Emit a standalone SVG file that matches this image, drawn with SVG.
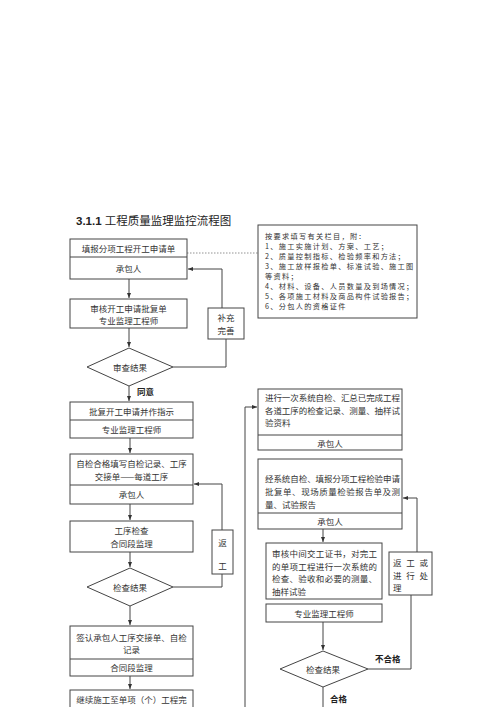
<svg xmlns="http://www.w3.org/2000/svg" width="500" height="707" viewBox="0 0 500 707">
<style>
.b{fill:#fff;stroke:#444;stroke-width:1}
.l{fill:none;stroke:#444;stroke-width:1}
.t{font-family:"Noto Sans CJK SC",sans-serif;font-size:8.5px;fill:#333;dominant-baseline:central}
.n{font-family:"Noto Sans CJK SC",sans-serif;font-size:7.2px;letter-spacing:1.3px;fill:#333;dominant-baseline:central}
.c{text-anchor:middle}
.lb{font-family:"Noto Sans CJK SC",sans-serif;font-size:8.5px;fill:#222;font-weight:bold;dominant-baseline:central}
</style>
<defs>
<marker id="a" viewBox="0 0 10 10" refX="10" refY="5" markerWidth="5" markerHeight="5" orient="auto"><path d="M0,1 L10,5 L0,9 z" fill="#333"/></marker>
</defs>
<rect width="500" height="707" fill="#fff"/>
<text x="76" y="225" font-family="Liberation Sans,sans-serif" font-size="11.5" font-weight="bold" fill="#222">3.1.1 <tspan font-family="Noto Sans CJK SC,sans-serif" font-weight="normal">工程质量监理监控流程图</tspan></text>

<g id="connectors">
<line class="l" x1="129" y1="279" x2="129" y2="298" marker-end="url(#a)"/>
<line class="l" x1="129" y1="328" x2="129" y2="347" marker-end="url(#a)"/>
<line class="l" x1="129" y1="386" x2="129" y2="401" marker-end="url(#a)"/>
<path class="l" d="M173,367 H226 V339"/>
<path class="l" d="M222,308 V269 H188" marker-end="url(#a)"/>
<line x1="187" y1="253" x2="258" y2="253" stroke="#777" stroke-width="0.8" stroke-dasharray="1.5,1.5"/>
<line class="l" x1="130" y1="438" x2="130" y2="453" marker-end="url(#a)"/>
<line class="l" x1="130" y1="504" x2="130" y2="520" marker-end="url(#a)"/>
<line class="l" x1="130" y1="552" x2="130" y2="567" marker-end="url(#a)"/>
<path class="l" d="M173,587 H222 V574"/>
<path class="l" d="M222,530 V484 H194" marker-end="url(#a)"/>
<line class="l" x1="130" y1="606" x2="130" y2="625" marker-end="url(#a)"/>
<line class="l" x1="130" y1="676" x2="130" y2="689" marker-end="url(#a)"/>
<path class="l" d="M245,707 V407 H257" marker-end="url(#a)"/>
<line class="l" x1="323" y1="529" x2="323" y2="542" marker-end="url(#a)"/>
<line class="l" x1="323" y1="622" x2="323" y2="650" marker-end="url(#a)"/>
<line class="l" x1="323" y1="687" x2="323" y2="707"/>
<path class="l" d="M368,669 H411 V595"/>
<path class="l" d="M417,552 V498 H403" marker-end="url(#a)"/>
</g>

<g id="n1"><rect class="b" x="70" y="239" width="117" height="40"/><line class="l" x1="70" y1="257" x2="187" y2="257"/>
<text class="t c" x="128.5" y="248">填报分项工程开工申请单</text><text class="t c" x="128.5" y="268">承包人</text></g>
<g id="n2"><rect class="b" x="70" y="299" width="117" height="29"/>
<text class="t c" x="128.5" y="307.5">审核开工申请批复单</text><text class="t c" x="128.5" y="320">专业监理工程师</text></g>
<g id="d1"><polygon class="b" points="129,348 173,367 129,386 87,367"/><text class="t c" x="130" y="367">审查结果</text></g>
<text class="lb" x="137" y="391">同意</text>
<g id="n_bc"><rect class="b" x="208" y="308" width="36" height="31"/><text class="t c" x="226" y="317">补充</text><text class="t c" x="226" y="330">完善</text></g>
<g id="note"><rect class="b" x="258" y="225" width="159" height="93" stroke="#555" stroke-width="1.3"/>
<text class="n" x="265" y="236">按要求填写有关栏目，附：</text>
<text class="n" x="265" y="246">1、施工实施计划、方案、工艺；</text>
<text class="n" x="265" y="256">2、质量控制指标、检验频率和方法；</text>
<text class="n" x="265" y="266">3、施工放样报检单、标准试验、施工图</text>
<text class="n" x="265" y="276">等资料；</text>
<text class="n" x="265" y="286">4、材料、设备、人员数量及到场情况；</text>
<text class="n" x="265" y="296">5、各项施工材料及商品构件试验报告；</text>
<text class="n" x="265" y="306">6、分包人的资格证件</text></g>

<g id="n3"><rect class="b" x="70" y="402" width="123" height="36"/><line class="l" x1="70" y1="420" x2="193" y2="420"/>
<text class="t c" x="131.5" y="411">批复开工申请并作指示</text><text class="t c" x="131.5" y="429">专业监理工程师</text></g>
<g id="n4"><rect class="b" x="70" y="454" width="123" height="50"/><line class="l" x1="70" y1="485" x2="193" y2="485"/>
<text class="t c" x="131.5" y="463">自检合格填写自检记录、工序</text><text class="t c" x="131.5" y="476">交接单——每道工序</text><text class="t c" x="131.5" y="494">承包人</text></g>
<g id="n5"><rect class="b" x="70" y="521" width="123" height="31"/>
<text class="t c" x="131.5" y="530">工序检查</text><text class="t c" x="131.5" y="543">合同段监理</text></g>
<g id="n_fg"><rect class="b" x="212" y="530" width="21" height="44"/><text class="t c" x="222.5" y="542">返</text><text class="t c" x="222.5" y="565">工</text></g>
<g id="d2"><polygon class="b" points="130,568 173,587 130,606 87,587"/><text class="t c" x="130" y="587">检查结果</text></g>
<g id="n6"><rect class="b" x="70" y="626" width="123" height="50"/><line class="l" x1="70" y1="659" x2="193" y2="659"/>
<text class="t c" x="131.5" y="637">签认承包人工序交接单、自检</text><text class="t c" x="131.5" y="649">记录</text><text class="t c" x="131.5" y="667">合同段监理</text></g>
<g id="n7"><rect class="b" x="70" y="690" width="123" height="30"/><text class="t c" x="131.5" y="699">继续施工至单项（个）工程完</text></g>

<g id="n8"><rect class="b" x="258" y="389" width="144" height="61"/><line class="l" x1="258" y1="435" x2="402" y2="435"/>
<text class="t" x="265" y="397" textLength="135">进行一次系统自检、汇总已完成工程</text>
<text class="t" x="265" y="410" textLength="135">各道工序的检查记录、测量、抽样试</text>
<text class="t" x="265" y="422">验资料</text>
<text class="t c" x="330" y="443">承包人</text></g>
<g id="n9"><rect class="b" x="258" y="459" width="144" height="70"/><line class="l" x1="258" y1="513" x2="402" y2="513"/>
<text class="t" x="265" y="478" textLength="135">经系统自检、填报分项工程检验申请</text>
<text class="t" x="265" y="491" textLength="135">批复单、现场质量检验报告单及测</text>
<text class="t" x="265" y="504">量、试验报告</text>
<text class="t c" x="330" y="521">承包人</text></g>
<g id="n10"><rect class="b" x="266" y="543" width="116" height="56"/>
<text class="t" x="272" y="553" textLength="105">审核中间交工证书，对完工</text>
<text class="t" x="272" y="566" textLength="105">的单项工程进行一次系统的</text>
<text class="t" x="272" y="578" textLength="105">检查、验收和必要的测量、</text>
<text class="t" x="272" y="591">抽样试验</text></g>
<g id="n11"><rect class="b" x="266" y="604" width="116" height="18"/><text class="t c" x="324" y="613">专业监理工程师</text></g>
<g id="n_cl"><rect class="b" x="389" y="552" width="43" height="43"/>
<text class="t" x="393" y="562" textLength="35">返工或</text>
<text class="t" x="393" y="575" textLength="35">进行处</text>
<text class="t" x="393" y="587">理</text></g>
<g id="d3"><polygon class="b" points="323,651 368,669 323,687 280,669"/><text class="t c" x="323" y="669">检查结果</text></g>
<text class="lb" x="375" y="658">不合格</text>
<text class="lb" x="330" y="698">合格</text>
</svg>
